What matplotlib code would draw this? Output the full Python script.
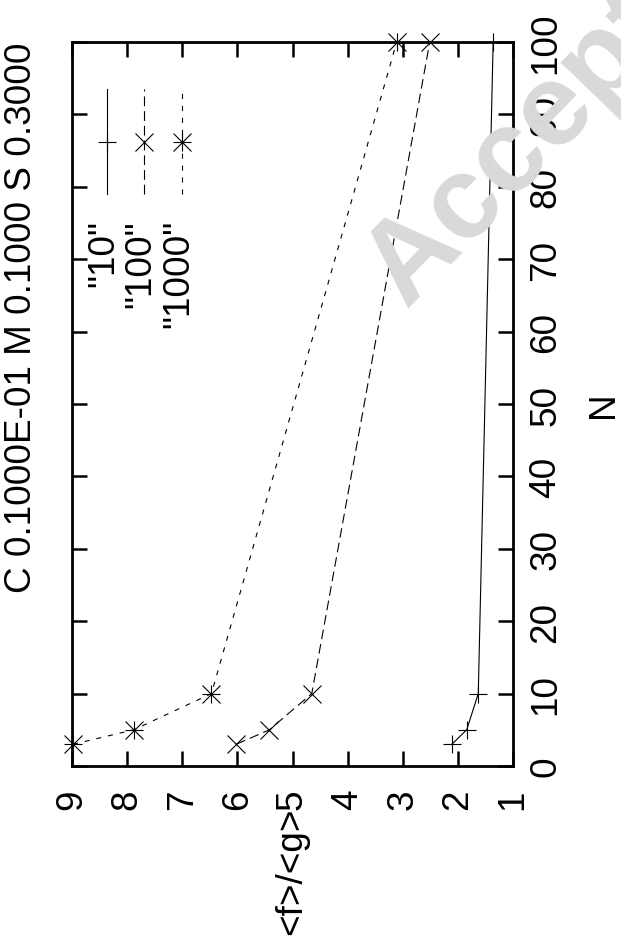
import numpy as np
import matplotlib
matplotlib.use('Agg')
import matplotlib.pyplot as plt

plt.rcParams['font.family'] = ['Liberation Sans', 'DejaVu Sans']
plt.rcParams['lines.scale_dashes'] = False

N = [3, 5, 10, 100]
ratio_10 = [2.11, 1.84, 1.63, 1.36]
ratio_100 = [6.02, 5.42, 4.65, 2.51]
ratio_1000 = [8.98, 7.88, 6.47, 3.11]
series_names = ['"10"', '"100"', '"1000"']
ratio_ticks = [9, 8, 7, 6, 5, 4, 3, 2, 1]
n_ticks = [0, 10, 20, 30, 40, 50, 60, 70, 80, 90, 100]

W, H = 621, 937
fs = 26.6
fig = plt.figure(figsize=(W / 100, H / 100), dpi=100)

# watermark behind everything
fig.text(345 / W, 1 - 302 / H, 'Accepted', fontsize=84, fontweight='bold',
         color='#d9d9d9', rotation=46, ha='left', va='baseline', zorder=0)

# plot frame in pixels (left, right, top, bottom)
L, R, T, B = 72, 513, 43, 767
ax = fig.add_axes([L / W, 1 - B / H, (R - L) / W, (B - T) / H])
ax.patch.set_alpha(0)

lw = 0.8
styles = [
    dict(color='k', lw=lw, ls='-'),
    dict(color='k', lw=lw, dashes=(7, 3.6)),
    dict(color='k', lw=lw, dashes=(3.6, 5)),
]
mk = dict(color='k', ls='none', ms=12.5, mew=0.8, clip_on=False)

# whole page is turned: N goes up, the ratio runs right-to-left
ax.plot(ratio_10, N, **styles[0])
ax.plot(ratio_10, N, marker='+', **mk)
ax.plot(ratio_100, N, **styles[1])
ax.plot(ratio_100, N, marker='x', **mk)
ax.plot(ratio_1000, N, **styles[2])
ax.plot(ratio_1000, N, marker='+', **mk)
ax.plot(ratio_1000, N, marker='x', **mk)

ax.set_xlim(9, 1)
ax.set_ylim(0, 100)
ax.set_xticks(ratio_ticks)
ax.set_yticks(n_ticks)
ax.tick_params(direction='in', length=10.8, width=1.8, top=True, right=True,
               left=True, bottom=True, labelleft=False, labelright=True,
               labelsize=fs)
ax.tick_params(axis='x', labelrotation=90, pad=16)
ax.tick_params(axis='y', labelrotation=90, pad=11)
for lbl in ax.get_yticklabels():
    lbl.set_va('center')
for s in ax.spines.values():
    s.set_linewidth(2.0)

# legend, drawn by hand because it is rotated too
def ax_xy(px, py):
    return (px - L) / (R - L), (B - py) / (B - T)

leg_x = [107, 144, 182]
leg_markers = [['+'], ['x'], ['+', 'x']]
for i in range(3):
    x0, y0 = ax_xy(leg_x[i], 195)
    x1, y1 = ax_xy(leg_x[i], 90)
    xm, ym = ax_xy(leg_x[i], 143)
    ax.plot([x0, x1], [y0, y1], transform=ax.transAxes, **styles[i])
    for m in leg_markers[i]:
        ax.plot([xm], [ym], transform=ax.transAxes, marker=m, **mk)
    xt, yt = ax_xy(leg_x[i] - 3, 220)
    ax.text(xt, yt, series_names[i], transform=ax.transAxes, rotation=90,
            ha='center', va='top', fontsize=fs)

# title and axis labels
fig.text(22 / W, 1 - 318 / H, 'C 0.1000E-01 M 0.1000 S 0.3000', rotation=90,
         ha='center', va='center', fontsize=fs)
fig.text(603 / W, 1 - 405 / H, 'N', rotation=90, ha='center', va='center',
         fontsize=fs)
fig.text(292 / W, 1 - 808 / H, '<f>/<g>', rotation=90, ha='center', va='top',
         fontsize=fs)

fig.savefig('out.png', dpi=100)
